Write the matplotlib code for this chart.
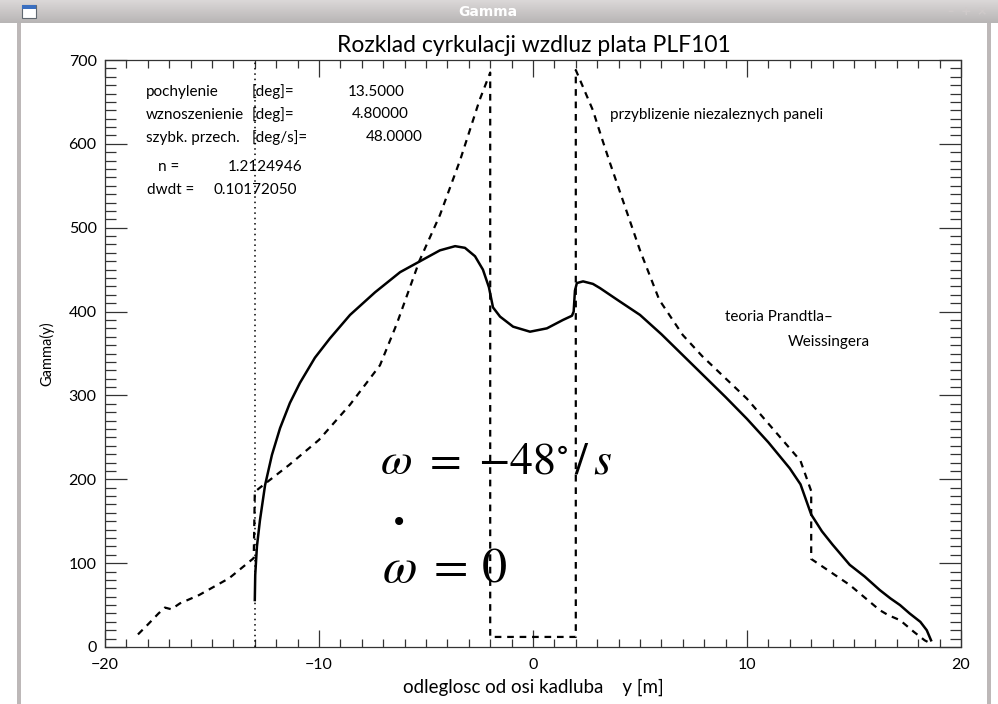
"""
Circulation distribution along the PLF101 wing: Prandtl-Weissinger theory
versus the independent-panel approximation, drawn in an IDL-style window.
"""

import matplotlib.pyplot as plt
import numpy as np
from matplotlib.patches import Rectangle
from matplotlib.ticker import MultipleLocator

plt.rcParams["mathtext.fontset"] = "stix"
plt.rcParams["font.family"] = ["Lato", "DejaVu Sans"]

W, H = 998, 704

# Prandtl-Weissinger circulation (solid)
pw_y = [-13.0, -12.98, -12.9, -12.76, -12.52, -12.2, -11.82, -11.36, -10.89, -10.19,
        -9.49, -8.55, -7.38, -6.21, -5.28, -4.35, -3.64, -3.18, -2.71, -2.34,
        -2.06, -1.87, -1.54, -0.93, -0.14, 0.65, 1.40, 1.82, 1.90, 1.96,
        2.05, 2.34, 2.8, 3.13, 4.0, 5.0, 6.0, 7.0, 8.0, 9.0,
        10.0, 11.0, 12.0, 12.5, 13.0, 13.5, 14.0, 14.8, 15.5, 16.2,
        16.7, 17.15, 17.6, 18.1, 18.4, 18.6]
pw_gamma = [56, 86, 120, 151, 193, 229, 261, 291, 315, 345,
            368, 396, 423, 447, 460, 473, 478, 476, 466, 450,
            429, 405, 394, 382, 376, 380, 390, 395, 400, 425,
            434, 436, 433, 428, 413, 396, 373, 348, 323, 298,
            272, 244, 213, 194, 158, 138, 122, 98, 84, 68,
            58, 50, 40, 30, 20, 8]

# independent panels approximation (dashed)
ip_y = [-18.46, -17.99, -17.5, -17.2, -16.9, -16.5, -15.6, -14.2, -13.05, -13.0,
        -12.76, -11.4, -10.0, -8.55, -7.15, -6.45, -6.3, -5.3, -4.35, -3.4,
        -2.5, -2.0, -2.0, 2.0, 2.0, 2.2, 2.8, 3.2, 3.6, 3.83,
        5.0, 5.9, 7.0, 7.9, 10.0, 12.5, 13.0, 13.0, 14.8, 16.2,
        16.6, 17.15, 17.8, 18.3, 18.6]
ip_gamma = [15, 27, 40, 47, 45, 52, 62, 82, 106, 185,
            190, 217, 247, 289, 336, 380, 390, 461, 515, 581,
            652, 685, 12, 12, 688, 676, 640, 608, 577, 560,
            473, 414, 372, 347, 296, 222, 186, 105, 74, 44,
            38, 32, 18, 8, 4]

aileron_y = -13.0

params_left = ["pochylenie", "wznoszenienie", "szybk. przech."]
params_units = ["[deg]=", "[deg]=", "[deg/s]="]
params_values = ["13.5000", "4.80000", "48.0000"]
n_value = "1.2124946"
dwdt_value = "0.10172050"


def px(x, y):
    return x / W, 1 - y / H


def draw_window(fig):
    # title bar
    grad = np.linspace(0.86, 0.72, 40).reshape(-1, 1)
    bar = fig.add_axes([0, 1 - 23 / H, 1, 23 / H])
    bar.imshow(np.dstack([grad, grad * 0.985, grad * 0.985]), aspect="auto", extent=[0, 1, 0, 1])
    bar.set_axis_off()
    bar.add_patch(Rectangle((22 / W, 0.2), 14 / W, 0.6, facecolor="white", edgecolor="#606870", lw=0.8))
    bar.add_patch(Rectangle((22 / W, 0.62), 14 / W, 0.18, facecolor="#3a6fc0", edgecolor="none"))
    bar.text(0.489, 0.5, "Gamma", color="white", fontsize=10, fontweight="bold",
             family=["DejaVu Sans"], ha="center", va="center")
    for xb, s in [(950, "–"), (966, "+"), (982, "×")]:
        bar.text(xb / W, 0.5, s, color="#cfcaca", fontsize=9, fontweight="bold",
                 family=["DejaVu Sans"], ha="center", va="center")
    # side borders
    fig.patches.append(Rectangle((17 / W, 0), 4 / W, 1 - 23 / H, transform=fig.transFigure,
                                 facecolor="#bdb8b8", edgecolor="none"))
    fig.patches.append(Rectangle((987 / W, 0), 4 / W, 1 - 23 / H, transform=fig.transFigure,
                                 facecolor="#bdb8b8", edgecolor="none"))


def main():
    fig = plt.figure(figsize=(W / 100, H / 100), dpi=100)
    ax = fig.add_axes([105 / W, 1 - 647 / H, 856 / W, 587 / H])

    ax.plot(pw_y, pw_gamma, color="black", lw=1.8)
    ax.plot(ip_y, ip_gamma, color="black", lw=1.6, linestyle=(0, (3, 2.6)))
    ax.axvline(aileron_y, color="black", lw=1.1, linestyle=(0, (1, 2.5)))

    ax.set_xlim(-20, 20)
    ax.set_ylim(0, 700)
    ax.xaxis.set_major_locator(MultipleLocator(10))
    ax.xaxis.set_minor_locator(MultipleLocator(1))
    ax.yaxis.set_major_locator(MultipleLocator(100))
    ax.yaxis.set_minor_locator(MultipleLocator(10))
    ax.tick_params(axis="both", which="both", direction="in", top=True, right=True,
                   color="#333333", width=0.9, labelsize=11.5)
    ax.tick_params(axis="x", which="major", length=12, pad=8)
    ax.tick_params(axis="x", which="minor", length=6)
    ax.tick_params(axis="y", which="major", length=16, pad=6)
    ax.tick_params(axis="y", which="minor", length=8)
    for spine in ax.spines.values():
        spine.set_linewidth(0.9)
        spine.set_color("#333333")

    ax.set_xlabel("odleglosc od osi kadluba    y [m]", fontsize=13.5, labelpad=5)
    ax.set_ylabel("Gamma(y)", fontsize=10.5, labelpad=10)
    fig.text(*px(534, 45), "Rozklad cyrkulacji wzdluz plata PLF101", fontsize=16.5,
             ha="center", va="center")

    # run parameters
    small = dict(fontsize=11, va="center", ha="left")
    for i in range(3):
        yy = 92 + i * 23
        fig.text(*px(146, yy), params_left[i], **small)
        fig.text(*px(252, yy), params_units[i], **small)
    fig.text(*px(348, 92), params_values[0], **small)
    fig.text(*px(352, 114), params_values[1], **small)
    fig.text(*px(366, 137), params_values[2], **small)
    fig.text(*px(158, 167), "n =", **small)
    fig.text(*px(228, 167), n_value, **small)
    fig.text(*px(147, 190), "dwdt =", **small)
    fig.text(*px(214, 190), dwdt_value, **small)

    fig.text(*px(610, 115), "przyblizenie niezaleznych paneli", fontsize=11, va="center")
    fig.text(*px(725, 317), "teoria Prandtla\u2013", fontsize=11, va="center")
    fig.text(*px(788, 342), "Weissingera", fontsize=11, va="center")

    fig.text(*px(380, 473), r"$\omega\ =\ {-}48^{\circ}\,/\,s$", fontsize=33, va="baseline")
    fig.text(*px(382, 582), r"$\omega\;{=}\,0$", fontsize=36, va="baseline")
    fig.text(*px(399, 523), "\u2022", fontsize=20, family=["DejaVu Sans"], ha="center", va="center")

    draw_window(fig)
    fig.savefig("out.png", dpi=100)
    plt.close(fig)


if __name__ == "__main__":
    main()
